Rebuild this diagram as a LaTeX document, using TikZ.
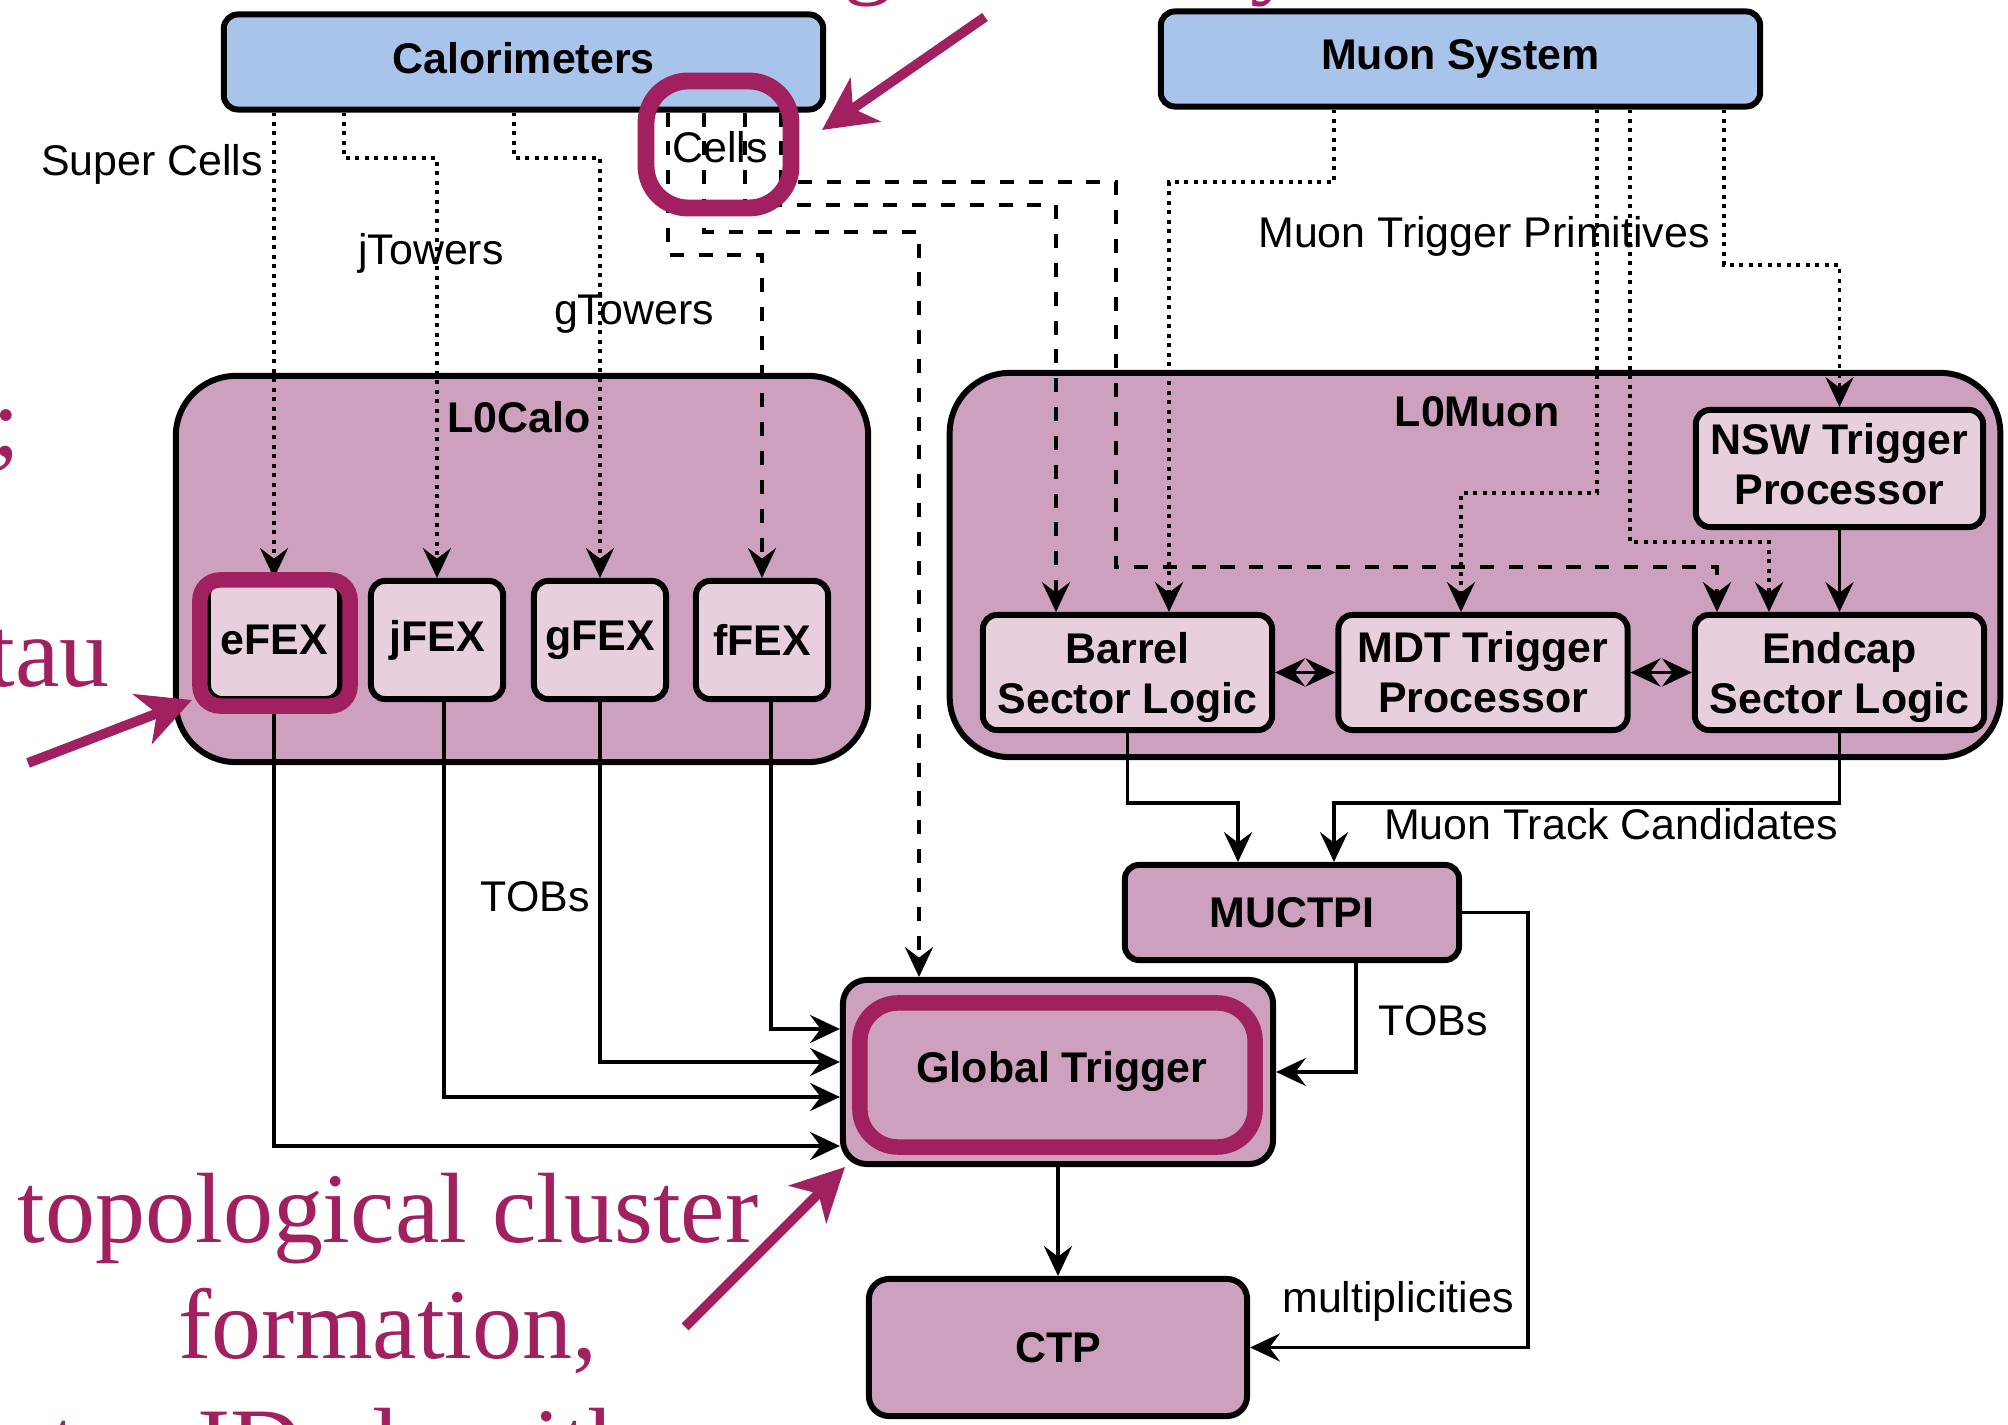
\documentclass[tikz,border=0pt]{standalone}
\usepackage{fontspec}
\setmainfont{Liberation Sans}
\newfontfamily\notefont{Liberation Serif}
\usetikzlibrary{arrows.meta,calc}

\definecolor{calblue}{RGB}{169,196,235}
\definecolor{grppink}{RGB}{205,161,190}
\definecolor{subpink}{RGB}{232,207,222}
\definecolor{hilite}{RGB}{160,32,96}

\newcommand\lblfont{\fontsize{12.2pt}{14.2pt}\selectfont}
\newcommand\notesize{\fontsize{28.4pt}{33pt}\selectfont}
% last line of a two-line label without its descender
\newcommand\nodepth[1]{\raisebox{0pt}[\height][0pt]{#1}}

\begin{document}
\begin{tikzpicture}[x=0.01cm,y=-0.01cm,
  box/.style={draw, line width=1.7pt, rounded corners=0.14cm, inner sep=0pt,
    align=center, font=\lblfont\bfseries},
  srcbox/.style={box, fill=calblue, minimum width=5.99cm, minimum height=0.95cm},
  grpbox/.style={draw, line width=1.7pt, rounded corners=0.6cm, fill=grppink, inner sep=0pt},
  subbox/.style={box, fill=subpink},
  fexbox/.style={subbox, minimum width=1.32cm, minimum height=1.18cm},
  mubox/.style={subbox, minimum width=2.89cm, minimum height=1.15cm},
  unitbox/.style={box, fill=grppink},
  grplabel/.style={font=\lblfont\bfseries, anchor=base, inner sep=0pt},
  txt/.style={font=\lblfont, anchor=base, inner sep=0pt},
  conn/.style={line width=0.95pt},
  tip/.style={-{Stealth[length=8.5pt,width=8pt,inset=3pt]}},
  dbl/.style={{Stealth[length=8.5pt,width=8pt,inset=3pt]}-{Stealth[length=8.5pt,width=8pt,inset=3pt]}},
  dotl/.style={conn, tip, dash pattern=on 1.1pt off 1.6pt},
  dashl/.style={conn, tip, dash pattern=on 4pt off 4.2pt},
  soll/.style={conn, tip},
  ring/.style={draw=hilite, line width=4.4pt},
  pointer/.style={draw=hilite, line width=2.8pt, -{Stealth[length=15pt,width=15pt,inset=4.3pt]}},
  note/.style={text=hilite, font=\notefont\notesize, inner sep=0pt},
]
\useasboundingbox (0,0) rectangle (2008,1425);
\fill[white] (0,0) rectangle (2008,1425);
\begin{scope}
\clip (0,0) rectangle (2008,1425);

% detector sources
\node[srcbox] (cal) at (523.5,62) {\raisebox{0.08cm}{Calorimeters}};
\node[srcbox] (muon) at (1460.5,59) {Muon System};

% level-0 groups
\node[grpbox, minimum width=6.92cm, minimum height=3.86cm] (l0calo) at (522,569) {};
\node[grplabel] (l0calolbl) at (519,433) {L0Calo};
\node[grpbox, minimum width=10.5cm, minimum height=3.84cm] (l0muon) at (1475,565) {};
\node[grplabel] (l0muonlbl) at (1477,427) {L0Muon};

% feature extractors
\node[fexbox] (efex) at (274,640) {eFEX};
\node[fexbox] (jfex) at (437,640) {jFEX};
\node[fexbox] (gfex) at (600,640) {gFEX};
\node[fexbox] (ffex) at (762,640) {fFEX};

% muon trigger processors
\node[mubox] (barrel) at (1127.5,672.5) {Barrel\\\nodepth{Sector Logic}};
\node[mubox] (mdt) at (1483,672.5) {MDT Trigger\\Processor};
\node[mubox] (endcap) at (1839.5,672.5) {Endcap\\\nodepth{Sector Logic}};
\node[subbox, minimum width=2.87cm, minimum height=1.17cm] (nsw) at (1839.5,468.5) {NSW Trigger\\Processor\vphantom{g}};

% central units
\node[unitbox, minimum width=3.34cm, minimum height=0.95cm] (muctpi) at (1292,912.5) {MUCTPI};
\node[unitbox, rounded corners=0.24cm, minimum width=4.30cm, minimum height=1.84cm] (global) at (1058,1072) {\hspace{0.08cm}\raisebox{-0.08cm}{Global Trigger}};
\node[unitbox, rounded corners=0.2cm, minimum width=3.78cm, minimum height=1.37cm] (ctp) at (1058,1347.5) {CTP};

% calorimeter outputs
\draw[dotl] (efex.north |- cal.south) -- (efex.north);
\draw[dotl] (344,0 |- cal.south) |- (jfex.north |- 0,158) -- (jfex.north);
\draw[dotl] (514,0 |- cal.south) |- (gfex.north |- 0,158) -- (gfex.north);
\draw[dashl] (668,0 |- cal.south) |- (ffex.north |- 0,255) -- (ffex.north);
\draw[dashl] (704,0 |- cal.south) |- (919,232) -- (919,0 |- global.north);
\draw[dashl] (745,0 |- cal.south) |- (1056,205) -- (1056,0 |- barrel.north);
\draw[dashl] (781,0 |- cal.south) |- (1116,182) |- (1717,567) -- (1717,0 |- endcap.north);

% muon system outputs
\draw[dotl] (1334,0 |- muon.south) |- (1169,182) -- (1169,0 |- barrel.north);
\draw[dotl] (1597,0 |- muon.south) |- (1461,493) -- (1461,0 |- mdt.north);
\draw[dotl] (1630,0 |- muon.south) |- (1769,542) -- (1769,0 |- endcap.north);
\draw[dotl] (1724,0 |- muon.south) |- (nsw.north |- 0,265) -- (nsw.north);
\draw[soll] (nsw.south) -- (endcap.north);
\draw[conn,dbl] (barrel.east) -- (mdt.west);
\draw[conn,dbl] (mdt.east) -- (endcap.west);

% muon candidates to MUCTPI
\draw[soll] (barrel.south) |- (1238,803) -- (1238,0 |- muctpi.north);
\draw[soll] (endcap.south) |- (1334,803) -- (1334,0 |- muctpi.north);

% trigger objects to Global Trigger and CTP
\draw[soll] (efex.south) |- (global.west |- 0,1146);
\draw[soll] (444,0 |- jfex.south) |- (global.west |- 0,1097);
\draw[soll] (gfex.south) |- (global.west |- 0,1062);
\draw[soll] (771,0 |- ffex.south) |- (global.west |- 0,1029);
\draw[soll] (1356,0 |- muctpi.south) |- (global.east);
\draw[soll] (global.south) -- (ctp.north);
\draw[soll] (muctpi.east) -| (1528,0 |- ctp.east) -- (ctp.east);

% connector labels
\node[txt] (lsuper) at (152,176) {Super Cells};
\node[txt] (ljt) at (431,265) {jTowers};
\node[txt] (lgt) at (634,325) {gTowers};
\node[txt] (lcells) at (720,163) {Cells};
\node[txt] (lmtp) at (1484,248) {Muon Trigger Primitives};
\node[txt] (ltobs1) at (535,912) {TOBs};
\node[txt] (ltobs2) at (1433,1036) {TOBs};
\node[txt] (lmtc) at (1611,840) {Muon Track Candidates};
\node[txt] (lmult) at (1398,1313) {multiplicities};

% highlights
\draw[ring, rounded corners=0.2cm] ($(efex.south west)+(-5,4)$) rectangle ($(efex.north east)+(7,2)$);
\draw[ring, line width=4.8pt, rounded corners=0.42cm] (646,81) rectangle (791,208);
\draw[ring, rounded corners=0.38cm] ($(global.north west)+(20,26)$) rectangle ($(global.south east)+(-21,-20)$);

\coordinate (pc0) at (985,17);   \coordinate (pc1) at (822,130);
\coordinate (pe0) at (28,763);   \coordinate (pe1) at (192,700);
\coordinate (pg0) at (685,1327); \coordinate (pg1) at (845,1167);
\draw[pointer] (pc0) -- (pc1);
\draw[pointer] (pe0) -- (pe1);
\draw[pointer] (pg0) -- (pg1);

% annotation text
\node[note, anchor=base] (n1) at (388,1242) {topological cluster};
\node[note, anchor=base] (n2) at (388,1359) {formation,};
\node[note, anchor=base west] (n3) at (50,1478) {tau ID algorithms};
\node[note, anchor=base east] (n4) at (110,687) {tau};
\node[note, anchor=base east] (n5) at (21,457) {;};
\node[note, anchor=base] (n6) at (868,-14) {g};
\node[note, anchor=base west] (n7) at (1250,-14) {y};
\end{scope}
\end{tikzpicture}
\end{document}
